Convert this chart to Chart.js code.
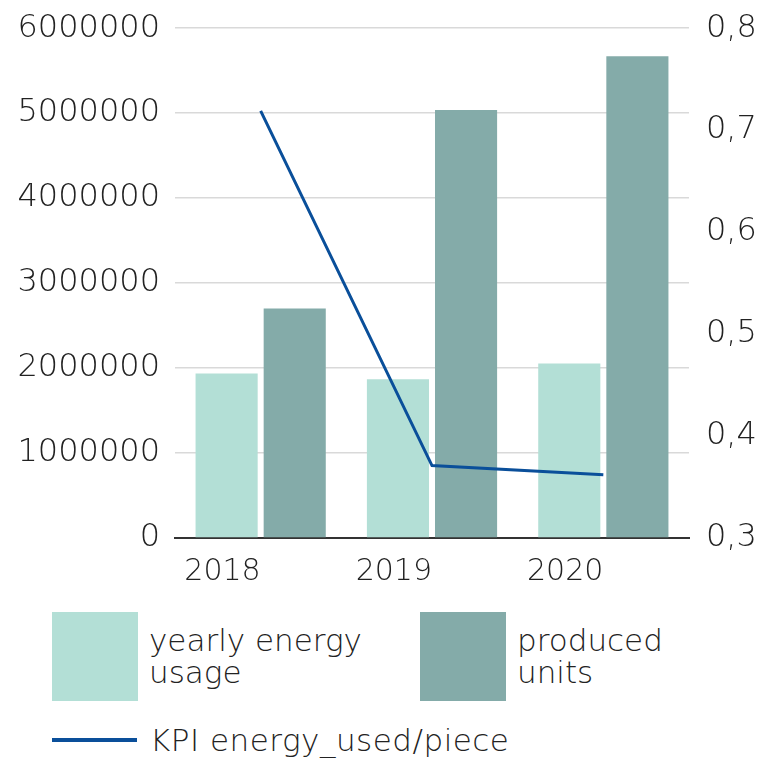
<!DOCTYPE html>
<html>
<head>
<meta charset="utf-8">
<script src="https://cdn.jsdelivr.net/npm/chart.js@4/dist/chart.umd.min.js"></script>
<style>
  html, body { margin: 0; padding: 0; background: #fff; }
  body { width: 758px; height: 758px; position: relative; overflow: hidden;
         font-family: "DejaVu Sans", sans-serif; font-weight: 200; color: #222; }
  #wrap { position: absolute; left: 0; top: -8px; width: 758px; height: 600px; }
  .box { position: absolute; width: 86px; height: 89px; top: 612px; }
  .txt { position: absolute; font-size: 31px; line-height: 32px; }
  .kline { position: absolute; left: 52px; top: 738px; width: 85px; height: 4px; }
</style>
</head>
<body>
<div id="wrap"><canvas id="energyChart"></canvas></div>

<div class="box" style="left:52px;background:#b3dfd6"></div>
<div class="txt" style="left:149px;top:624px">yearly energy<br>usage</div>
<div class="box" style="left:420px;background:#84aba9"></div>
<div class="txt" style="left:517px;top:624px">produced<br>units</div>
<div class="kline" style="background:#0a4f9a"></div>
<div class="txt" style="left:150px;top:724px;letter-spacing:0.5px">KPI energy_used/piece</div>

<script>
const years = ['2018', '2019', '2020'];
const energyUsage = [1937000, 1867000, 2055000];
const producedUnits = [2700000, 5037000, 5671000];
const kpiPerPiece = [0.719, 0.371, 0.362];

const LIGHT = '#b3dfd6';
const DARK = '#84aba9';
const BLUE = '#0a4f9a';

const tickFont = { family: 'DejaVu Sans', size: 32, weight: 200 };

function createEnergyChart() {
    const ctx = document.getElementById('energyChart').getContext('2d');
    new Chart(ctx, {
        data: {
            labels: years,
            datasets: [{
                type: 'line',
                label: 'KPI energy_used/piece',
                data: kpiPerPiece,
                yAxisID: 'kpi',
                borderColor: BLUE,
                borderWidth: 3,
                pointRadius: 0,
                tension: 0,
                order: 0
            }, {
                type: 'bar',
                label: 'yearly energy usage',
                data: energyUsage,
                yAxisID: 'y',
                backgroundColor: LIGHT,
                categoryPercentage: 0.795,
                barPercentage: 0.912,
                order: 1
            }, {
                type: 'bar',
                label: 'produced units',
                data: producedUnits,
                yAxisID: 'y',
                backgroundColor: DARK,
                categoryPercentage: 0.795,
                barPercentage: 0.912,
                order: 1
            }]
        },
        options: {
            responsive: true,
            maintainAspectRatio: false,
            animation: false,
            layout: { padding: { top: 21, left: 0, right: 0, bottom: 0 } },
            plugins: {
                legend: { display: false },
                tooltip: { enabled: false }
            },
            scales: {
                x: {
                    grid: { display: false, drawTicks: false },
                    border: { display: true, color: '#333', width: 2 },
                    ticks: {
                        align: 'end',
                        padding: 16,
                        color: '#222',
                        font: { family: 'DejaVu Sans', size: 30, weight: 200 }
                    },
                    afterFit: s => { s.height = 54; }
                },
                y: {
                    position: 'left',
                    min: 0,
                    max: 6000000,
                    grid: { color: '#d9d9d9', lineWidth: 1.5, drawTicks: false },
                    border: { display: false },
                    ticks: {
                        stepSize: 1000000,
                        padding: 15,
                        color: '#222',
                        font: tickFont,
                        callback: v => String(v)
                    },
                    afterFit: s => { s.width = 175; }
                },
                kpi: {
                    position: 'right',
                    min: 0.3,
                    max: 0.8,
                    grid: { display: false, drawTicks: false },
                    border: { display: false },
                    ticks: {
                        stepSize: 0.1,
                        padding: 17,
                        color: '#222',
                        font: tickFont,
                        callback: v => v.toFixed(1).replace('.', ',')
                    },
                    afterFit: s => { s.width = 69; }
                }
            }
        }
    });
}

document.addEventListener('DOMContentLoaded', createEnergyChart);
</script>
</body>
</html>
